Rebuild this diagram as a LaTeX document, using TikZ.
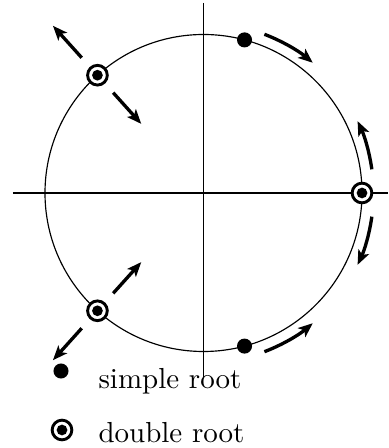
\documentclass[tikz,border=0pt]{standalone}
\usetikzlibrary{arrows.meta}
\begin{document}
\begin{tikzpicture}[x=0.345pt,y=0.345pt,
  thinline/.style={line width=0.4pt},
  arr/.style={line width=1.15pt,-{Stealth[length=5pt,width=4pt,inset=1.2pt]}},
  simpleroot/.style={circle,fill=black,inner sep=0pt,minimum size=5.2pt},
  doubleroot/.style={circle,draw=black,fill=white,line width=1pt,inner sep=0pt,minimum size=6.8pt,
    path picture={\fill[black] (path picture bounding box.center) circle[radius=1.85pt];}},
  lbl/.style={anchor=base west,inner sep=0pt,font=\normalsize}]
\useasboundingbox (-203.5,-255) rectangle (184.5,193);
% axes
\coordinate (xl) at (-190.5,0);
\coordinate (xr) at (184.5,0);
\coordinate (yt) at (0,190);
\coordinate (yb) at (0,-185);
\coordinate (o) at (0,0);
\draw[thinline] (xl) -- (xr);
\draw[thinline] (yt) -- (yb);
\draw[line width=0.6pt] (0,13) -- (o) -- (12,0);
% unit circle
\draw[thinline] (o) circle[radius=158.5];
% roots
\node[simpleroot] (s1) at (75:158.5) {};
\node[simpleroot] (s2) at (-75:158.5) {};
\node[doubleroot] (d1) at (132:158.5) {};
\node[doubleroot] (d2) at (-132:158.5) {};
\node[doubleroot] (d3) at (0:158.5) {};
% arc arrows
\coordinate (a1s) at (69:170);
\draw[arr] (a1s) arc[start angle=69,end angle=50,radius=170];
\coordinate (a2s) at (8:170);
\draw[arr] (a2s) arc[start angle=8,end angle=25,radius=170];
\coordinate (a3s) at (-8:170);
\draw[arr] (a3s) arc[start angle=-8,end angle=-25,radius=170];
\coordinate (a4s) at (-69:170);
\draw[arr] (a4s) arc[start angle=-69,end angle=-50,radius=170];
% radial arrows
\coordinate (r1a) at (132:182); \coordinate (r1b) at (132:225);
\coordinate (r2a) at (132:135); \coordinate (r2b) at (132:93);
\coordinate (r3a) at (-132:182); \coordinate (r3b) at (-132:225);
\coordinate (r4a) at (-132:135); \coordinate (r4b) at (-132:93);
\draw[arr] (r1a) -- (r1b);
\draw[arr] (r2a) -- (r2b);
\draw[arr] (r3a) -- (r3b);
\draw[arr] (r4a) -- (r4b);
% legend
\node[simpleroot] (ls) at (-142.5,-178) {};
\node[lbl] (lst) at (-105.5,-195) {simple root};
\node[doubleroot] (ld) at (-141.5,-237) {};
\node[lbl] (ldt) at (-105.5,-249) {double root};
\end{tikzpicture}
\end{document}
